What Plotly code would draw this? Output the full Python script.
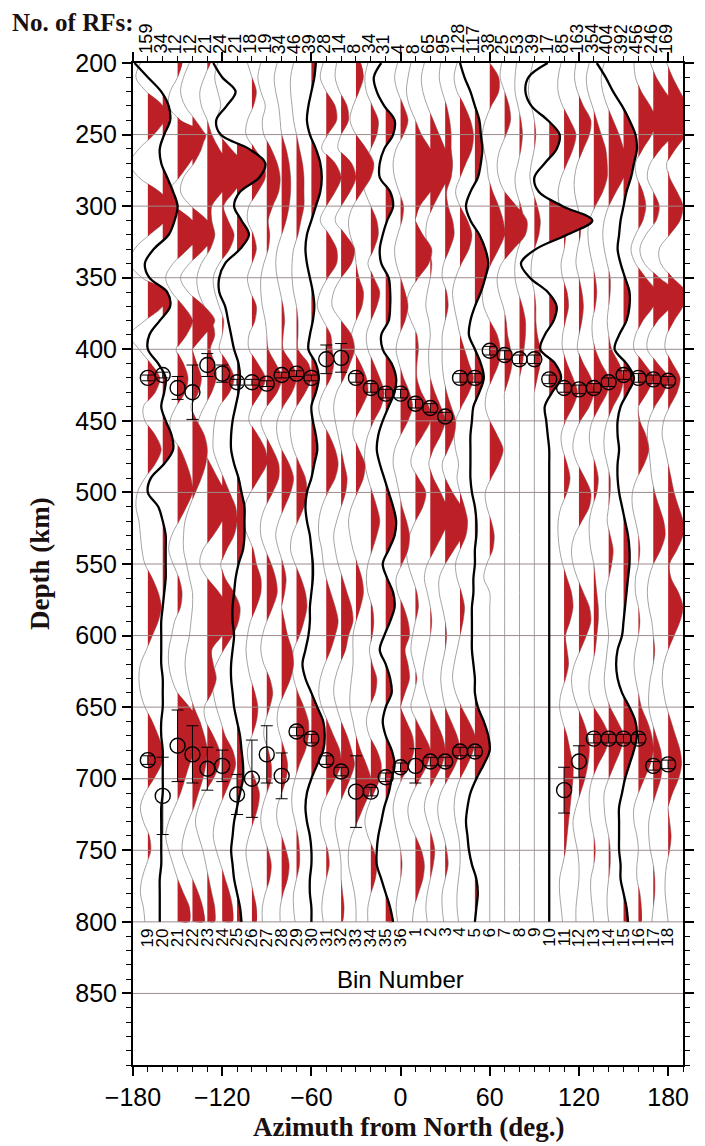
import plotly.graph_objects as go

# ---------------- data ----------------
DEPTH_KM = list(range(200, 801, 10))          # sample depths of every trace

BIN_NUMBERS = [19, 20, 21, 22, 23, 24, 25, 26, 27, 28, 29, 30, 31, 32, 33, 34, 35, 36,
               1, 2, 3, 4, 5, 6, 7, 8, 9, 10, 11, 12, 13, 14, 15, 16, 17, 18]
AZIMUTHS = [-170, -160, -150, -140, -130, -120, -110, -100, -90, -80, -70, -60, -50, -40, -30, -20, -10, 0,
            10, 20, 30, 40, 50, 60, 70, 80, 90, 100, 110, 120, 130, 140, 150, 160, 170, 180]
N_RFS = [159, 34, 12, 12, 21, 24, 21, 18, 19, 34, 46, 39, 28, 14, 8, 34, 31, 4,
         8, 65, 95, 128, 117, 38, 25, 53, 39, 17, 85, 163, 354, 404, 392, 456, 246, 169]

PICK_410 = [420, 418, 427, 430, 411, 417, 423, 423, 424, 418, 417, 420, 407, 406, 420, 427, 431, 431,
            438, 441, 447, 420, 420, 401, 404, 407, 407, 421, 427, 428, 427, 423, 418, 420, 421, 422]
ERR_410 = [2, 2, 8, 19, 8, 6, 2, 2, 2, 2, 2, 2, 10, 10, 3, 3, 3, 3,
           3, 3, 3, 3, 3, 3, 3, 3, 3, 3, 3, 3, 3, 3, 3, 3, 3, 3]
PICK_660 = [687, 712, 677, 683, 693, 691, 711, 700, 683, 698, 667, 672, 687, 695, 709, 709, 699, 692,
            691, 688, 688, 681, 681, None, None, None, None, None, 708, 688, 672, 672, 672, 672, 691, 690]
ERR_660 = [3, 27, 25, 20, 15, 11, 14, 27, 20, 16, 3, 3, 3, 3, 25, 3, 3, 3,
           12, 3, 3, 3, 3, 0, 0, 0, 0, 0, 16, 11, 3, 3, 3, 3, 3, 3]

# trace amplitudes (degrees of azimuth) at DEPTH_KM, one list per bin
AMP_B19 = [-5, -8, -1, 10, 11, 4, -6, -12, -6, 8, 16, 12, 1, -9, -12, -4, 13, 10, -2, -12, -6,
           2, 8, 5, -3, -2, 5, 9, 5, -2, -7, -8, -6, -5, -4, -2, 3, 7, 9, 7, 3,
           -1, -5, -6, -5, -2, 3, 7, 10, 9, 4, -2, -5, -3, 1, 2, -1, -4, -5, -3, -2]
AMP_B20 = [-19, -10, -1, 4, 5, 1, -2, -1, 3, 7, 10, 8, 4, -6, -12, -9, 3, 5, -2, -9, -10,
           -3, 2, 1, -1, 2, 6, 7, 1, -8, -10, -3, 0, 2, 2, 2, 2, 1, 0, -1, -1,
           -1, -1, 0, 0, 0, -1, -1, 0, 0, 0, 0, -1, -1, -1, -1, -1, -2, -2, -2, -2]
AMP_B21 = [3, 0, -5, -6, 2, 19, 14, 8, 1, -6, -2, 10, 15, 7, -3, -8, -4, 4, 10, 6, -1,
           4, 7, 5, -1, -5, -4, 2, 6, 9, 10, 6, 1, -4, -6, -3, 1, 3, 2, -2, -4,
           -6, -6, -4, 0, 8, 15, 15, 12, 8, 5, 2, -2, -6, -8, -6, -3, 0, 4, 8, 8]
AMP_B22 = [-2, -6, -8, -5, 2, 8, 6, 1, -6, -8, -1, 10, 15, 8, -2, -8, -3, 8, 15, 8, 0,
           3, 6, 4, -1, 3, 8, 10, 9, 6, 2, -2, -5, -6, -6, -4, -2, 0, 0, -1, -2,
           -4, -5, -4, -2, 1, 5, 8, 10, 9, 7, 4, 1, -3, -6, -7, -4, 0, 4, 7, 8]
AMP_B23 = [2, -2, -5, -4, 0, 3, 8, 14, 15, 10, 3, 3, 5, 2, -4, -7, -6, -2, 3, 5, 2,
           5, 6, 3, -2, -6, -6, -3, 2, 7, 12, 14, 10, 4, -3, -5, 0, 8, 14, 15, 10,
           3, 4, 6, 3, -2, -1, 4, 8, 8, 4, -2, -6, -8, -6, -3, -1, 1, 3, 5, 5]
AMP_B24 = [-3, -5, -3, -1, -4, -2, 6, 14, 15, 8, 1, 4, 8, 5, -2, -6, -5, -2, 1, 0, -2,
           4, 8, 5, -2, -5, -6, -6, -3, 1, 5, 9, 10, 8, 3, -1, 2, 8, 12, 11, 7,
           1, -4, -7, -6, -4, -1, 2, 7, 9, 6, 2, -2, -5, -6, -4, -1, 2, 5, 7, 7]
AMP_B25 = [-16, -10, -1, -7, -14, -11, 8, 19, 15, 2, -2, 3, 8, 2, -8, -12, -12, -8, -6, -4, -2,
           1, 2, 1, -1, -3, -4, -4, -2, 1, 3, 5, 5, 5, 4, 1, -1, -2, -3, -3, -2,
           -3, -4, -4, -3, -2, 0, 2, 3, 4, 4, 2, 0, -2, -3, -4, -3, -2, 0, 2, 3]
AMP_B26 = [-3, 0, 3, 1, -3, -4, 2, 8, 9, 4, -2, -3, 1, 3, 0, -3, -1, 3, 2, -2, -2,
           4, 9, 6, 0, -2, 4, 9, 10, 5, -1, -5, -6, -3, 1, 3, 6, 6, 3, -1, -3,
           -4, -3, -1, 2, 4, 3, 0, -3, -2, 2, 5, 4, 1, -2, -4, -3, -1, 1, 3, 3]
AMP_B27 = [-4, -6, -4, -1, -3, -2, 3, 7, 9, 8, 4, 1, 2, 1, -2, -4, -4, -3, -1, 0, 1,
           6, 10, 7, 0, -4, -1, 4, 8, 8, 4, -1, -4, -4, -1, 3, 6, 7, 4, 0, -3,
           -4, -2, 2, 4, 2, -1, -2, 1, 3, 3, 0, -3, -4, -2, 1, 3, 2, -1, -3, -3]
AMP_B28 = [-3, -5, -4, -2, -1, 0, 3, 5, 6, 6, 5, 3, 0, -3, -4, -3, -1, 1, 2, 1, 1,
           7, 10, 7, 1, -3, -3, 0, 5, 8, 6, 2, -2, -4, -2, 1, 3, 2, 0, 2, 4,
           7, 8, 6, 2, -2, -3, -1, 2, 4, 3, 0, -3, -3, 0, 3, 5, 4, 1, -1, -1]
AMP_B29 = [-2, -4, -4, -3, -2, 0, 2, 4, 5, 5, 5, 3, 1, -2, -3, -3, -2, 0, 1, 1, 1,
           8, 10, 6, 0, -4, -4, -2, 2, 6, 7, 5, 1, -3, -4, -1, 3, 6, 7, 5, 2,
           -2, -3, -2, 1, 5, 8, 8, 6, 2, -1, -3, -3, -1, 1, 2, 2, 0, -2, -2, -1]
AMP_B30 = [3, 2, 0, -2, -3, -1, 3, 6, 7, 6, 3, 0, -3, -4, -3, -1, 1, 2, 1, -1, -2,
           3, 5, 3, 0, 1, 3, 4, 2, 0, -3, -4, -3, -1, 0, 1, 1, 0, -1, -1, -2,
           -4, -6, -4, 0, 4, 8, 9, 8, 4, 0, -3, -4, -3, -1, 0, 0, -1, -1, 0, 0]
AMP_B31 = [-2, -4, 0, 6, 7, 1, -3, 6, 10, 6, 0, -4, 2, 7, 7, 1, -4, -6, -2, 3, 4,
           5, 3, -2, -5, -3, 2, 6, 8, 6, 1, -3, -5, -5, -3, -2, 0, 3, 6, 8, 6,
           3, -1, -4, -5, -3, 1, 5, 9, 10, 6, 1, -3, -4, -2, 1, 2, 0, -2, -3, -2]
AMP_B32 = [-3, -4, -1, 4, 5, 0, -2, 7, 10, 6, 0, -4, 3, 9, 7, 0, -5, -6, 0, 7, 9,
           6, 2, -3, -5, -4, -2, 0, 2, 4, 3, 0, -3, -5, -4, -2, 1, 4, 7, 8, 5,
           3, -1, -4, -5, -3, 0, 4, 7, 9, 6, 2, -2, -4, -3, -1, 0, 0, 1, 2, 1]
AMP_B33 = [3, 5, 2, -2, -4, 0, 7, 12, 10, 4, -2, -5, -4, -1, 0, 2, 5, 4, 0, -3, -2,
           3, 7, 8, 4, -1, -2, 2, 6, 5, 1, -3, -5, -4, -2, 1, 4, 5, 3, 0, -2,
           -2, -2, -3, -4, -4, -2, 0, 3, 7, 10, 9, 5, 1, -3, -5, -5, -3, -1, 0, 0]
AMP_B34 = [-2, -4, -3, 1, 5, 4, 0, -4, -6, -4, 0, 4, 5, 2, -2, 2, 6, 4, 0, -3, -2,
           2, 6, 9, 7, 2, -2, -4, -4, -2, 1, 4, 6, 4, 1, -2, -3, -2, 1, 2, 1,
           -1, 1, 4, 3, -1, -3, -1, 4, 7, 6, 2, -2, -4, -2, 2, 4, 3, 0, -2, -2]
AMP_B35 = [-3, -8, -6, -1, 6, 5, -1, -4, -4, 3, 5, 1, -2, -4, -3, 2, 3, 3, 2, -3, -2,
           4, 7, 6, 2, -2, -5, -6, -4, -1, 2, 5, 7, 6, 2, -2, 1, 5, 6, 3, -1,
           -4, 0, 3, 4, 0, -2, 0, 4, 6, 4, 2, -1, -3, -5, -6, -6, -3, 0, 3, 5]
AMP_B36 = [-2, -4, -2, 2, 5, 2, -3, -5, -4, -1, 2, 1, -2, -4, -3, 0, 3, 5, 3, -1, -3,
           -1, 2, 6, 8, 5, 0, -4, -5, -3, -1, 1, 4, 6, 5, 1, -3, -2, 2, 5, 6,
           3, 5, 6, 3, 0, 4, 8, 9, 6, 1, -3, -5, -4, -2, 0, 1, 0, -2, -3, -2]
AMP_B01 = [-3, -5, -6, -4, 0, 4, 10, 14, 15, 10, 3, 0, 5, 11, 9, 2, -4, -6, -3, 1, 2,
           1, 1, 4, 9, 10, 5, -1, -3, 2, 7, 5, 0, -4, -6, -5, -2, 1, 2, 0, -2,
           -3, -1, 1, -1, -3, 1, 6, 10, 8, 3, -2, -5, -4, 0, 4, 6, 5, 2, -1, -2]
AMP_B02 = [-4, -6, -5, -2, 2, 6, 10, 14, 12, 7, 2, -2, -3, -1, 1, 0, -2, -3, -1, 0, -1,
           -1, 0, 3, 7, 10, 7, 2, -1, 2, 7, 11, 12, 8, 3, -2, -4, -2, 0, 1, 0,
           -2, -4, -5, -3, 0, 4, 8, 10, 8, 3, -2, -4, -2, 1, 3, 2, 0, -2, -3, -2]
AMP_B03 = [-3, -4, -2, 1, 3, 4, 4, 5, 4, 1, 2, 5, 6, 3, -1, -2, 1, 2, 0, -2, -2,
           -2, -1, 1, 4, 7, 6, 2, -2, 0, 5, 11, 15, 12, 6, 0, -4, -4, -2, 0, 1,
           0, -2, -3, -2, 0, 4, 8, 10, 7, 2, -3, -5, -4, -1, 1, 2, 0, -2, -2, -1]
AMP_B04 = [-2, -4, -2, 3, 7, 9, 8, 4, 0, -3, 0, 5, 8, 6, 1, -3, -5, -4, -2, 0, 3,
           6, 9, 6, 1, -3, -4, -3, -1, -2, 0, 3, 5, 4, 0, -3, -2, 1, 3, 2, 0,
           -2, -4, -5, -3, 1, 6, 10, 9, 5, 0, -3, -4, -3, -1, 0, 0, -1, -2, -2, -1]
AMP_B05 = [-10, -7, -3, 0, 3, 4, 5, 4, 2, -3, -6, -3, 3, 7, 9, 7, 4, 0, -3, -4, 0,
           4, 6, 3, -1, -2, -3, -3, -3, -3, -2, 0, 1, 1, 0, 0, -1, -1, -2, -2, -2,
           -2, -1, 0, 0, 2, 6, 9, 10, 6, 1, -3, -5, -6, -5, -4, -2, 1, 2, 1, 0]
AMP_B06 = [0, 6, 6, 1, -3, -5, -4, -2, -1, 2, 6, 9, 10, 6, 1, -3, -5, -4, 0, 5, 7,
           6, 2, -2, -3, 0, 5, 9, 6, 1, -3, -2, 1, 3, 2, -2, -4, 0, 0, 0, 0,
           0, 0, 0, 0, 0, 0, 0, 0, 0, 0, 0, 0, 0, 0, 0, 0, 0, 0, 0, 0]
AMP_B07 = [-2, -3, 0, 3, 4, 1, -3, -5, -4, 0, 8, 15, 14, 6, -2, -5, -4, -1, 1, 2, 4,
           5, 3, 0, 0, 0, 0, 0, 0, 0, 0, 0, 0, 0, 0, 0, 0, 0, 0, 0, 0,
           0, 0, 0, 0, 0, 0, 0, 0, 0, 0, 0, 0, 0, 0, 0, 0, 0, 0, 0, 0]
AMP_B08 = [-2, -3, -3, -1, 1, 2, 1, -1, -3, -2, 1, 3, 2, -1, -3, -3, -1, 2, 4, 4, 3,
           2, 0, 0, 0, 0, 0, 0, 0, 0, 0, 0, 0, 0, 0, 0, 0, 0, 0, 0, 0,
           0, 0, 0, 0, 0, 0, 0, 0, 0, 0, 0, 0, 0, 0, 0, 0, 0, 0, 0, 0]
AMP_B09 = [-1, -3, -4, -2, 0, 1, 0, -2, -3, -1, 2, 4, 3, 0, -2, -2, 0, 1, 1, 2, 4,
           4, 2, 0, 0, 0, 0, 0, 0, 0, 0, 0, 0, 0, 0, 0, 0, 0, 0, 0, 0,
           0, 0, 0, 0, 0, 0, 0, 0, 0, 0, 0, 0, 0, 0, 0, 0, 0, 0, 0, 0]
AMP_B10 = [-1, -14, -16, -12, -1, 7, 5, -3, -10, -7, 9, 29, 12, -9, -19, -13, -1, 5, 3, -3, -6,
           4, 8, 2, -3, -2, -1, 0, 0, 0, 0, 0, 0, 0, 0, 0, 0, 0, 0, 0, 0,
           0, 0, 0, 0, 0, 0, 0, 0, 0, 0, 0, 0, 0, 0, 0, 0, 0, 0, 0, 0]
AMP_B11 = [-2, -4, -4, -1, 4, 8, 6, 2, -2, -4, -3, -1, 1, 0, -2, -1, 2, 3, 1, -1, -1,
           2, 6, 9, 6, 1, -2, -1, 2, 4, 2, -2, -4, -4, -3, -1, 2, 5, 6, 4, 1,
           2, 3, 1, -2, -3, -1, 2, 4, 6, 6, 5, 4, 3, 2, 1, -1, -3, -3, -2, -1]
AMP_B12 = [-2, -3, -1, 3, 8, 7, 3, -1, -3, -3, -1, 1, 1, -1, -2, 0, 2, 3, 2, 0, -1,
           3, 8, 10, 7, 1, -3, -4, -1, 4, 8, 7, 2, -3, -5, -4, -1, 3, 7, 8, 5,
           1, -3, -5, -4, -1, 3, 6, 7, 6, 4, 1, -2, -4, -3, -1, 0, 0, -1, -2, -2]
AMP_B13 = [-3, -5, -4, -1, 2, 5, 8, 9, 9, 6, 1, -3, -4, -3, -1, 1, 2, 1, -1, -1, 1,
           5, 10, 9, 4, -1, -3, -2, 1, 3, 2, -1, -3, -3, -2, 0, 1, 2, 3, 3, 2,
           1, -1, -3, -3, 0, 6, 10, 8, 3, -1, -3, -3, -2, 0, 1, 0, -2, -2, -1, 0]
AMP_B14 = [-3, -5, -4, -1, 3, 7, 10, 12, 10, 5, 0, -3, -4, -3, -1, 1, 1, 0, -1, 0, 2,
           7, 10, 8, 3, -1, -3, -3, -1, 1, 1, 0, -1, 1, 3, 2, 0, -2, -2, -1, 0,
           -1, -2, -3, -2, 1, 6, 10, 8, 4, 0, -3, -3, -2, 0, 1, 1, 0, -1, -1, 0]
AMP_B15 = [-18, -12, -7, -1, 4, 8, 9, 7, 5, 2, 0, -2, -3, -4, -2, 1, 4, 4, 2, -3, -6,
           2, 7, 3, -2, -4, -4, -3, -4, -4, -3, -1, 1, 3, 4, 4, 3, 2, 1, 0, -1,
           -4, -5, -4, -1, 4, 8, 9, 7, 4, 1, -1, -3, -3, -3, -3, -2, -2, 0, 2, 3]
AMP_B16 = [-3, -2, 2, 8, 12, 9, 3, -2, -1, 3, 5, 3, -2, -5, -2, 5, 12, 10, 3, -2, -3,
           4, 10, 6, 0, 1, 5, 7, 4, -1, -4, -4, -2, 0, 1, 0, -2, -2, 0, 1, 0,
           -2, -3, -2, 0, 2, 6, 9, 10, 8, 4, 0, -3, -3, -1, 0, -1, -1, 1, 2, 2]
AMP_B17 = [-2, 2, 8, 15, 19, 14, 5, -2, -4, 0, 4, 2, -5, -9, -6, 4, 15, 12, 3, -3, -4,
           3, 10, 7, 1, -3, -4, -3, -2, -1, 1, 4, 7, 8, 5, 0, -3, -4, -3, -1, 0,
           1, 0, -2, -3, -3, -1, 2, 5, 6, 5, 2, -1, -3, -3, -2, 0, 1, 1, 0, -1]
AMP_B18 = [-1, 3, 8, 13, 15, 12, 5, -1, 1, 6, 10, 8, 1, -6, -5, 3, 12, 10, 4, -1, -2,
           3, 8, 6, 1, -3, -4, -2, 0, 2, 4, 7, 10, 10, 6, 1, 2, 7, 10, 8, 4,
           0, -3, -4, -3, -1, 2, 5, 8, 9, 7, 3, 0, 1, 2, 1, -1, -2, -2, -1, 0]

Y_TICKS = [200, 250, 300, 350, 400, 450, 500, 550, 600, 650, 700, 750, 800, 850]
X_TICKS = [-180, -120, -60, 0, 60, 120, 180]
GRID_DEPTHS = [250, 300, 350, 400, 450, 500, 550, 600, 650, 700, 750, 800, 850]

# ---------------- build figure ----------------
AMPS = [AMP_B19, AMP_B20, AMP_B21, AMP_B22, AMP_B23, AMP_B24, AMP_B25, AMP_B26, AMP_B27,
        AMP_B28, AMP_B29, AMP_B30, AMP_B31, AMP_B32, AMP_B33, AMP_B34, AMP_B35, AMP_B36,
        AMP_B01, AMP_B02, AMP_B03, AMP_B04, AMP_B05, AMP_B06, AMP_B07, AMP_B08, AMP_B09,
        AMP_B10, AMP_B11, AMP_B12, AMP_B13, AMP_B14, AMP_B15, AMP_B16, AMP_B17, AMP_B18]

RED = '#bc1f26'

thin_x, thin_y, thick_x, thick_y = [], [], [], []
fill_x, fill_y = [], []


def add_fill(base, amps, depths):
    seg = []
    for i, (a, d) in enumerate(zip(amps, depths)):
        if a > 0:
            if not seg:
                if i > 0 and amps[i - 1] <= 0:
                    a0, d0 = amps[i - 1], depths[i - 1]
                    dc = d0 + (d - d0) * (-a0) / (a - a0)
                else:
                    dc = d
                seg.append((base, dc))
            seg.append((base + a, d))
        elif seg:
            a0, d0 = amps[i - 1], depths[i - 1]
            dc = d0 + (d - d0) * a0 / (a0 - a)
            seg.append((base, dc))
            fill_x.extend([p[0] for p in seg] + [None])
            fill_y.extend([p[1] for p in seg] + [None])
            seg = []
    if seg:
        seg.append((base, depths[-1]))
        fill_x.extend([p[0] for p in seg] + [None])
        fill_y.extend([p[1] for p in seg] + [None])


for b, az, amps in zip(BIN_NUMBERS, AZIMUTHS, AMPS):
    xs = [az + a for a in amps]
    if b % 5 == 0:
        thick_x.extend(xs + [None]); thick_y.extend(DEPTH_KM + [None])
    else:
        thin_x.extend(xs + [None]); thin_y.extend(DEPTH_KM + [None])
    add_fill(az, amps, DEPTH_KM)

fig = go.Figure()
fig.add_trace(go.Scatter(x=thin_x, y=thin_y, mode='lines', hoverinfo='skip',
                         line=dict(color='#9a9a9a', width=0.9, shape='spline', smoothing=1)))
fig.add_trace(go.Scatter(x=fill_x, y=fill_y, mode='lines', fill='toself', fillcolor=RED,
                         hoverinfo='skip', line=dict(width=0, color=RED, shape='spline', smoothing=0.8)))
gx, gy = [], []
for d in GRID_DEPTHS:
    gx += [-180, 190, None]; gy += [d, d, None]
fig.add_trace(go.Scatter(x=gx, y=gy, mode='lines', hoverinfo='skip',
                         line=dict(color='#9c8c8c', width=1)))
fig.add_trace(go.Scatter(x=thick_x, y=thick_y, mode='lines', hoverinfo='skip',
                         line=dict(color='black', width=2.3, shape='spline', smoothing=1)))

# picks with error bars
fig.add_trace(go.Scatter(x=AZIMUTHS, y=PICK_410, mode='markers',
                         marker=dict(symbol='circle-open', size=15, color='black', line=dict(width=1.4)),
                         error_y=dict(type='data', array=ERR_410, color='black', thickness=1, width=6)))
az660 = [a for a, p in zip(AZIMUTHS, PICK_660) if p is not None]
p660 = [p for p in PICK_660 if p is not None]
e660 = [e for e, p in zip(ERR_660, PICK_660) if p is not None]
fig.add_trace(go.Scatter(x=az660, y=p660, mode='markers',
                         marker=dict(symbol='circle-open', size=15, color='black', line=dict(width=1.4)),
                         error_y=dict(type='data', array=e660, color='black', thickness=1, width=6)))

ann = []
for az, n in zip(AZIMUTHS, N_RFS):
    ann.append(dict(x=az - 1.5, y=1, xref='x', yref='paper', text=str(n), textangle=-90,
                    showarrow=False, xanchor='center', yanchor='bottom', yshift=7,
                    font=dict(family='Liberation Sans', size=18, color='black')))
for az, b in zip(AZIMUTHS, BIN_NUMBERS):
    ann.append(dict(x=az, y=803, xref='x', yref='y', text=str(b), textangle=-90,
                    showarrow=False, xanchor='center', yanchor='top',
                    font=dict(family='Liberation Sans', size=17, color='black')))
ann.append(dict(x=0, y=1, xref='paper', yref='paper', text='<b>No. of RFs:</b>', showarrow=False,
                xanchor='right', yanchor='middle', xshift=3, yshift=41,
                font=dict(family='Liberation Serif', size=25, color='#1a1010')))
ann.append(dict(x=0, y=840, xref='x', yref='y', text='Bin Number', showarrow=False,
                xanchor='center', yanchor='middle',
                font=dict(family='Liberation Sans', size=24, color='black')))
ann.append(dict(x=0.5, y=0, xref='paper', yref='paper', text='<b>Azimuth from North (deg.)</b>',
                showarrow=False, xanchor='center', yanchor='middle', yshift=-62,
                font=dict(family='Liberation Serif', size=27, color='#1a1010')))
ann.append(dict(x=0, y=0.5, xref='paper', yref='paper', text='<b>Depth (km)</b>', textangle=-90,
                showarrow=False, xanchor='center', yanchor='middle', xshift=-93,
                font=dict(family='Liberation Serif', size=27, color='#1a1010')))

axis_common = dict(showline=True, linewidth=2, linecolor='black', mirror='allticks',
                   ticks='outside', ticklen=9, tickwidth=1.5, tickcolor='black',
                   showgrid=False, zeroline=False,
                   tickfont=dict(family='Liberation Sans', size=25, color='black'))
# the page body has an 8px margin, so the figure is sized/placed to compensate
fig.update_layout(
    width=697, height=1138,
    margin=dict(l=125, r=11, t=55, b=81),
    paper_bgcolor='white', plot_bgcolor='white',
    showlegend=False,
    xaxis=dict(range=[-180, 190], tickmode='array', tickvals=X_TICKS,
               minor=dict(dtick=10, tick0=0, ticks='outside', ticklen=5, tickcolor='black', tickwidth=1),
               **axis_common),
    yaxis=dict(range=[900, 200], tickmode='array', tickvals=Y_TICKS,
               minor=dict(dtick=10, tick0=200, ticks='outside', ticklen=5, tickcolor='black', tickwidth=1),
               **axis_common),
    annotations=ann,
)

fig.write_html('out.html')
